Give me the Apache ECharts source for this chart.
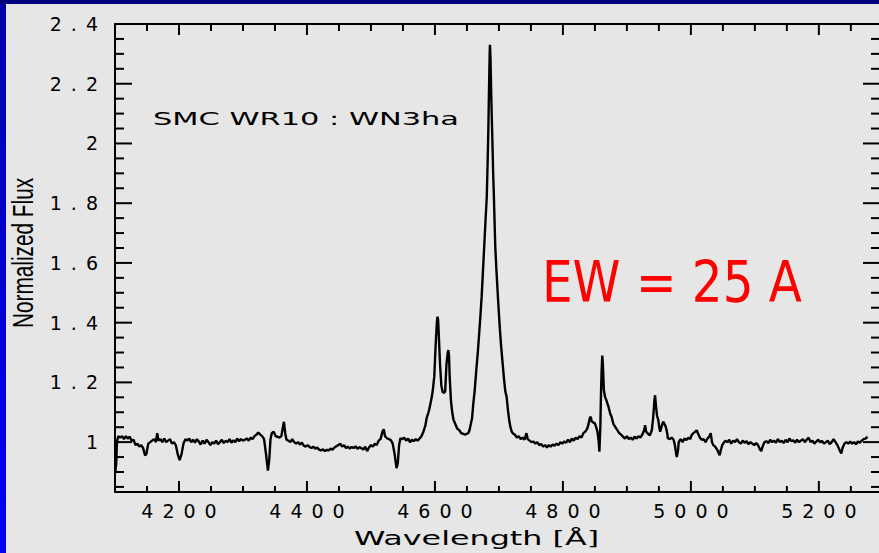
<!DOCTYPE html>
<html>
<head>
<meta charset="utf-8">
<script src="https://cdn.jsdelivr.net/npm/echarts@6.0.0/dist/echarts.min.js"></script>
<style>
  html, body { margin: 0; padding: 0; background: #e6e6e6; }
  #main { width: 879px; height: 553px; }
  #main text[style*="19px"] { letter-spacing: 9px; }
</style>
</head>
<body>
<div id="main"></div>
<script>
const errs = [];
window.addEventListener('error', e => errs.push('W:' + (e.message || e)));

// ---- Data ----
const wl = [
4100.5,4102,4103,4105,4108,4111,4114,4117,4120,4123,4126,4129,4132,4135,4138,4141,4144,4147,4149,4152,
4155,4158,4161,4164,4166,4168,4171,4174,4177,4180,4183,4186,4189,4192,4195,4198,4201,4204,4207,4210,
4213,4216,4219,4222,4225,4228,4231,4234,4237,4240,4243,4246,4249,4252,4255,4258,4261,4264,4267,4270,
4273,4276,4279,4282,4285,4288,4291,4294,4297,4300,4303,4306,4309,4312,4315,4318,4321,4324,4327,4330,
4333,4336,4339,4341,4343,4345,4348,4351,4354,4357,4360,4362,4364,4366,4368,4371,4374,4377,4380,4383,
4386,4389,4392,4395,4398,4401,4404,4407,4410,4413,4416,4419,4422,4425,4428,4431,4434,4437,4440,4443,
4446,4449,4452,4455,4458,4461,4464,4467,4470,4473,4476,4479,4482,4485,4488,4491,4494,4497,4500,4503,
4506,4509,4512,4515,4518,4520,4522,4525,4528,4531,4534,4537,4540,4542,4544,4546,4549,4552,4555,4558,
4561,4564,4567,4570,4573,4576,4579,4582,4585,4587,4590,4592,4595,4597,4599,4601,4603,4604,4605,4606,
4608,4610,4612,4614,4616,4618,4620,4621,4622,4623,4625,4627,4629,4632,4635,4638,4641,4644,4647,4650,
4652,4654,4656,4658,4660,4662,4665,4667,4669,4671,4673,4675,4677,4679,4681,4682.5,4683.5,4684.5,4685.5,4686,
4686.8,4687.8,4688.7,4690,4691,4692.2,4693.3,4694.3,4696,4698.4,4700,4701.6,4703.5,4705.8,4708,4710,4712,4714,4716,4718,
4720,4722,4725,4728,4731,4734,4737,4740,4743,4745,4748,4751,4754,4757,4760,4763,4766,4769,4772,4775,
4778,4781,4784,4787,4790,4793,4796,4799,4802,4805,4808,4811,4814,4817,4820,4823,4826,4829,4832,4835,
4838,4840,4842,4843.5,4845,4848,4850,4852,4854,4856,4857,4858.5,4859.4,4860.5,4861.5,4862.5,4864,4866,4868,4871,
4874,4876,4879,4882,4885,4888,4891,4894,4897,4900,4903,4906,4909,4912,4915,4918,4921,4924,4927,4928.5,
4930,4933,4936,4939,4941,4943,4944,4945.5,4947,4949,4951,4952,4954,4956,4957,4959,4961,4963,4964,4967,
4970,4973,4975,4977,4978,4980,4981,4984,4987,4990,4993,4996,4999,5001,5004,5007,5009,5011,5014,5017,
5020,5023,5026,5029,5031,5033,5035,5038,5041,5043,5045,5047,5049,5051,5054,5057,5060,5063,5066,5069,
5072,5075,5078,5081,5084,5087,5090,5093,5096,5099,5102,5105,5108,5110,5112,5115,5118,5121,5124,5127,
5130,5133,5136,5139,5142,5145,5148,5151,5154,5157,5160,5163,5166,5169,5172,5175,5178,5181,5184,5187,
5190,5193,5196,5199,5202,5205,5208,5211,5214,5217,5220,5223,5226,5229,5232,5235,5237,5240,5243,5246,
5249,5252,5255,5258,5261,5264,5267,5270,5273,5276
];
const flux = [
0.90,0.93,1.00,1.02,1.015,1.02,1.01,1.02,1.012,1.018,1.005,1.008,0.99,0.995,0.985,0.99,0.98,0.955,0.96,0.995,
1.0,1.005,1.01,1.0,1.03,1.005,1.01,1.0,1.012,1.0,1.005,1.01,0.995,1.0,0.99,0.96,0.94,0.96,0.995,1.01,
1.005,1.012,1.0,1.008,0.998,1.01,1.002,0.992,1.005,0.995,1.008,1.0,0.99,1.0,0.995,1.005,0.993,1.0,1.008,0.997,
1.005,1.0,1.01,0.998,1.006,1.0,1.012,1.003,1.01,1.005,1.008,1.012,1.005,1.015,1.01,1.02,1.025,1.032,1.025,1.02,
1.01,0.96,0.905,0.94,1.01,1.03,1.035,1.02,1.018,1.015,1.02,1.045,1.068,1.03,1.008,1.005,1.0,1.01,1.0,0.995,
1.0,0.992,0.998,0.988,0.985,0.99,0.984,0.98,0.985,0.978,0.982,0.975,0.972,0.976,0.97,0.974,0.972,0.978,0.975,0.982,
0.986,0.99,0.995,0.985,0.99,0.98,0.985,0.978,0.984,0.98,0.986,0.978,0.983,0.98,0.975,0.985,0.97,0.982,0.99,0.985,
0.995,0.99,1.005,1.01,1.035,1.043,1.02,1.013,1.01,1.007,0.995,0.96,0.913,0.93,0.99,1.013,1.01,1.015,1.005,1.012,
1.0,1.008,1.003,1.01,1.005,1.012,1.02,1.035,1.055,1.08,1.1,1.118,1.15,1.18,1.22,1.32,1.40,1.42,1.41,1.36,
1.26,1.19,1.168,1.165,1.17,1.26,1.30,1.308,1.29,1.22,1.14,1.10,1.075,1.06,1.045,1.04,1.03,1.028,1.025,1.028,
1.03,1.04,1.06,1.08,1.13,1.17,1.25,1.30,1.36,1.42,1.487,1.57,1.654,1.74,1.82,1.95,2.05,2.18,2.30,2.33,
2.29,2.18,2.10,1.99,1.90,1.82,1.73,1.654,1.58,1.487,1.43,1.375,1.32,1.264,1.21,1.17,1.152,1.11,1.074,1.05,
1.035,1.029,1.025,1.015,1.02,1.01,1.015,1.008,1.03,1.01,1.005,1.0,1.002,0.995,1.0,0.99,0.994,0.985,0.99,0.982,
0.99,0.985,0.992,0.988,0.995,0.99,1.0,0.995,1.002,0.998,1.008,1.0,1.012,1.005,1.015,1.01,1.02,1.015,1.03,1.035,
1.045,1.06,1.08,1.085,1.07,1.065,1.063,1.05,1.035,1.0,0.968,1.05,1.15,1.24,1.29,1.26,1.174,1.15,1.14,1.12,
1.095,1.085,1.06,1.05,1.04,1.03,1.025,1.018,1.012,1.02,1.01,1.015,1.008,1.018,1.012,1.02,1.015,1.025,1.04,1.057,
1.035,1.028,1.023,1.04,1.08,1.14,1.157,1.12,1.09,1.074,1.045,1.035,1.05,1.065,1.068,1.06,1.05,1.03,1.013,1.01,
1.015,1.008,0.99,0.96,0.95,0.975,1.0,1.01,1.0,1.012,1.007,1.015,1.01,1.023,1.03,1.035,1.04,1.03,1.015,1.008,
1.01,1.0,1.012,1.02,1.03,1.0,0.99,0.985,0.975,0.965,0.956,0.975,0.99,0.997,1.005,1.0,1.008,0.995,1.005,1.0,
1.01,1.0,0.995,1.005,0.998,1.003,0.993,1.0,0.995,0.99,0.997,0.99,0.975,0.97,0.985,1.0,1.003,0.997,1.008,1.0,
1.005,0.998,1.01,1.0,1.005,0.997,1.008,1.0,1.012,1.003,1.006,0.998,1.008,1.0,1.005,1.01,1.0,1.008,1.015,1.0,
1.005,0.995,1.002,1.008,1.0,1.004,0.995,1.0,1.005,0.993,1.0,1.01,1.0,0.99,0.975,0.962,0.98,0.995,1.0,0.995,
1.002,0.995,1.0,0.993,1.002,0.998,1.005,1.01,1.012,1.018
];

// ---- Axes ticks and labels ----
const xMajorTicks = [4200, 4400, 4600, 4800, 5000, 5200];
const xTickLabels = ['4200', '4400', '4600', '4800', '5000', '5200'];
const xMinorTicks = [4150, 4250, 4300, 4350, 4450, 4500, 4550, 4650, 4700, 4750, 4850, 4900, 4950, 5050, 5100, 5150, 5250];
const yMajorTicks = [1.0, 1.2, 1.4, 1.6, 1.8, 2.0, 2.2, 2.4];
const yTickLabels = ['1', '1.2', '1.4', '1.6', '1.8', '2', '2.2', '2.4'];
const yMinorTicks = [0.85, 0.9, 0.95, 1.05, 1.1, 1.15, 1.25, 1.3, 1.35, 1.45, 1.5, 1.55, 1.65, 1.7, 1.75,
                     1.85, 1.9, 1.95, 2.05, 2.1, 2.15, 2.25, 2.3, 2.35];

const xMin = 4100, xMax = 5294, yMin = 0.833, yMax = 2.4;

const titleText = 'SMC WR10 : WN3ha';
const xName = 'Wavelength [Å]';
const yName = 'Normalized Flux';
const ewText = 'EW = 25 A';

// tick marks: [value, kind]  kind 0 = x major, 1 = x minor, 2 = y major, 3 = y minor
const tickItems = []
  .concat(xMajorTicks.map(v => [v, 0]))
  .concat(xMinorTicks.map(v => [v, 1]))
  .concat(yMajorTicks.map(v => [v, 2]))
  .concat(yMinorTicks.map(v => [v, 3]));

const chart = echarts.init(document.getElementById('main'), null, { renderer: 'svg' });

function seg(x1, y1, x2, y2) {
  return { type: 'line', shape: { x1: x1, y1: y1, x2: x2, y2: y2 }, style: { stroke: '#000', lineWidth: 2 } };
}
function renderTick(params, api) {
  try {
    const v = api.value(0), kind = api.value(1);
    const cs = params.coordSys;
    const left = cs.x, right = cs.x + cs.width, top = cs.y, bottom = cs.y + cs.height;
    if (kind === 0 || kind === 1) {
      const x = api.coord([v, yMin])[0];
      const lb = kind === 0 ? 11 : 6, lt = kind === 0 ? 11 : 7;
      return { type: 'group', children: [seg(x, bottom, x, bottom - lb), seg(x, top, x, top + lt)] };
    }
    const y = api.coord([xMin, v])[1];
    const ll = kind === 2 ? 17 : 9, lr = kind === 2 ? 16 : 8;
    return { type: 'group', children: [seg(left, y, left + ll, y), seg(right, y, right - lr, y)] };
  } catch (e) {
    errs.push('R:' + e.message);
    return null;
  }
}

try {
  chart.setOption({
    animation: false,
    backgroundColor: '#e6e6e6',
    grid: { left: 115, top: 24, width: 764, height: 468 },
    xAxis: [
      {
        type: 'value', position: 'bottom', min: xMin, max: xMax,
        axisLine: { show: true, lineStyle: { color: '#000', width: 2 } },
        axisTick: { show: false },
        axisLabel: {
          show: true, customValues: xMajorTicks, margin: 9, color: '#000',
          fontSize: 19, fontFamily: 'DejaVu Sans', padding: [0, 0, 0, 9],
          formatter: v => xTickLabels[xMajorTicks.indexOf(v)] ?? String(v)
        },
        splitLine: { show: false }
      },
      {
        type: 'value', position: 'top', min: xMin, max: xMax,
        axisLine: { show: true, lineStyle: { color: '#000', width: 2 } },
        axisTick: { show: false }, axisLabel: { show: false }, splitLine: { show: false }
      }
    ],
    yAxis: [
      {
        type: 'value', position: 'left', min: yMin, max: yMax,
        axisLine: { show: true, lineStyle: { color: '#000', width: 2 } },
        axisTick: { show: false },
        axisLabel: {
          show: true, customValues: yMajorTicks, margin: 8, color: '#000',
          fontSize: 19, fontFamily: 'DejaVu Sans',
          formatter: v => {
            const i = yMajorTicks.findIndex(t => Math.abs(t - v) < 1e-6);
            return i >= 0 ? yTickLabels[i] : String(v);
          }
        },
        splitLine: { show: false }
      }
    ],
    series: [
      {
        type: 'custom',
        name: 'ticks',
        coordinateSystem: 'cartesian2d',
        xAxisIndex: 0, yAxisIndex: 0,
        silent: true,
        data: tickItems,
        renderItem: renderTick,
        z: 5
      },
      {
        type: 'line',
        name: 'spectrum',
        xAxisIndex: 0, yAxisIndex: 0,
        data: wl.map((w, i) => [w, flux[i]]),
        showSymbol: false,
        lineStyle: { color: '#000', width: 2.4 }
      }
    ]
  });
} catch (e) { errs.push('S1:' + e.message); }

const leftGrad = new echarts.graphic.LinearGradient(0, 0, 0, 1, [
  { offset: 0, color: '#0000a8' }, { offset: 1, color: '#0000f8' }
]);
const graphics = [
  { type: 'rect', silent: true, shape: { x: 0, y: 0, width: 6, height: 553 }, style: { fill: leftGrad } },
  { type: 'rect', silent: true, shape: { x: 0, y: 0, width: 879, height: 4 }, style: { fill: '#000080' } },
  { type: 'text', silent: true, x: 153, y: 118.5, scaleX: 1.69,
    style: { text: titleText, fontSize: 18, fontFamily: 'DejaVu Sans', fill: '#000', align: 'left', verticalAlign: 'middle' } },
  { type: 'text', silent: true, x: 476.5, y: 538, scaleX: 1.59,
    style: { text: xName, fontSize: 20, fontFamily: 'DejaVu Sans', fill: '#000', align: 'center', verticalAlign: 'middle' } },
  { type: 'text', silent: true, x: 22.5, y: 253, rotation: Math.PI / 2, scaleX: 1.04, scaleY: 1.47,
    style: { text: yName, fontSize: 20, fontFamily: 'Liberation Sans', fill: '#000', align: 'center', verticalAlign: 'middle' } },
  { type: 'text', silent: true, x: 542, y: 282.5, scaleX: 0.85,
    style: { text: ewText, fontSize: 57, fontFamily: 'DejaVu Sans', fill: '#ff0000', align: 'left', verticalAlign: 'middle' } }
];
if (wl.length !== flux.length) errs.push('len ' + wl.length + '/' + flux.length);
if (errs.length) {
  graphics.push({ type: 'text', x: 130, y: 470, style: { text: errs.join(' | ').slice(0, 300), fontSize: 11, fill: '#c00' } });
}
try {
  chart.setOption({ graphic: graphics });
} catch (e) { errs.push('S2:' + e.message); }
</script>
</body>
</html>
